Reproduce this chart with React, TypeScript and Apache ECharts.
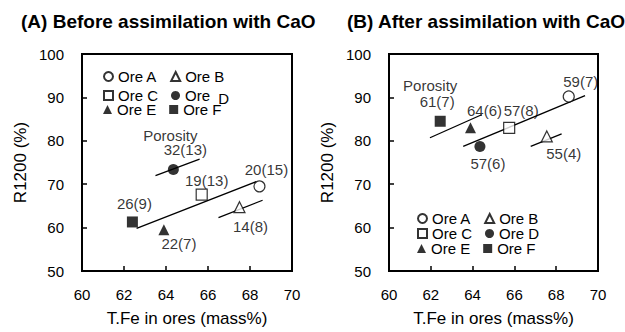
import React, { useEffect, useRef } from 'react';
import * as echarts from 'echarts';

// ---- data ----
const ores = ['Ore A', 'Ore B', 'Ore C', 'Ore D', 'Ore E', 'Ore F'];
const tFeBefore = [68.45, 67.5, 65.7, 64.35, 63.9, 62.4];
const r1200Before = [69.5, 64.7, 67.6, 73.4, 59.5, 61.3];
const porosityBefore = ['20(15)', '14(8)', '19(13)', '32(13)', '22(7)', '26(9)'];
const tFeAfter = [68.6, 67.55, 65.75, 64.35, 63.9, 62.45];
const r1200After = [90.2, 81.0, 83.0, 78.7, 83.0, 84.5];
const porosityAfter = ['59(7)', '55(4)', '57(8)', '57(6)', '64(6)', '61(7)'];
const trendBefore = [
  [[63.5, 72.0], [65.6, 75.8]],
  [[62.6, 59.8], [68.3, 70.6]],
  [[66.5, 62.3], [68.6, 66.3]],
];
const trendAfter = [
  [[61.96, 80.7], [64.43, 86.0]],
  [[63.55, 78.7], [69.38, 90.4]],
  [[66.78, 78.7], [68.26, 81.6]],
];
const porosityWordIndex = [3, 5]; // Ore D in (A), Ore F in (B)
const titles = ['(A) Before assimilation with CaO', '(B) After assimilation with CaO'];
const xMin = 60, xMax = 70, xInterval = 2;
const yMin = 50, yMax = 100, yInterval = 10;
const xName = 'T.Fe in ores (mass%)';
const yName = 'R1200 (%)';

// ---- styles ----
const FONT = 'Liberation Sans, Arial, Helvetica, sans-serif';
const symbols = ['circle', 'triangle', 'rect', 'circle', 'triangle', 'rect'];
const filled = [false, false, false, true, true, true];
const labelOffsets = [
  [[7, -17], [11, 19], [5, -14], [12, -20], [15, 14], [2, -18]],
  [[12, -15], [17, 17], [12, -17], [8, 17], [14, -17], [-3, -20]],
];
const porosityWordOffset = [[-3, -34], [-10, -36]];
const grids = [
  { left: 82, top: 54, width: 210, height: 219 },
  { left: 389, top: 54, width: 209, height: 218 },
];
const titlePos = [{ left: 21, top: 12 }, { left: 347, top: 12 }];
const legendLeft = [103, 417];
const legendRowCenters = [[76, 92.5, 109], [218, 233, 248]];

function itemStyleFor(i: number) {
  return filled[i]
    ? { color: '#000', borderColor: '#000', borderWidth: 0 }
    : { color: '#fff', borderColor: '#000', borderWidth: 1.2 };
}

const labelText = {
  color: '#000',
  fontSize: 15,
  fontFamily: FONT,
  lineHeight: 14,
  textBorderWidth: 0,
  textBorderColor: 'transparent',
};

export default function App() {
  const ref = useRef<HTMLDivElement>(null);
  useEffect(() => {
    if (!ref.current) return;
    const chart = echarts.init(ref.current, null, { renderer: 'svg' });
    const panels = [
      { x: tFeBefore, y: r1200Before, por: porosityBefore, trend: trendBefore },
      { x: tFeAfter, y: r1200After, por: porosityAfter, trend: trendAfter },
    ];
    const series: any[] = [];
    panels.forEach((p, pi) => {
      p.trend.forEach((seg) => {
        series.push({
          type: 'line',
          xAxisIndex: pi,
          yAxisIndex: pi,
          data: seg,
          symbol: 'none',
          silent: true,
          lineStyle: { color: '#000', width: 1.3 },
          z: 1,
        });
      });
      ores.forEach((name, i) => {
        series.push({
          type: 'scatter',
          name,
          xAxisIndex: pi,
          yAxisIndex: pi,
          symbol: symbols[i],
          symbolSize: 11,
          itemStyle: itemStyleFor(i),
          z: 3,
          data: [[p.x[i], p.y[i]]],
          label: {
            show: true,
            position: 'inside',
            offset: labelOffsets[pi][i],
            formatter: p.por[i],
            ...labelText,
          },
        });
      });
      const wi = porosityWordIndex[pi];
      series.push({
        type: 'scatter',
        xAxisIndex: pi,
        yAxisIndex: pi,
        symbolSize: 0,
        silent: true,
        data: [[p.x[wi], p.y[wi]]],
        label: {
          show: true,
          position: 'inside',
          offset: porosityWordOffset[pi],
          formatter: 'Porosity',
          ...labelText,
        },
      });
    });

    const legends: any[] = [];
    [0, 1].forEach((pi) => {
      [0, 1, 2].forEach((row) => {
        legends.push({
          data: [ores[row * 2], ores[row * 2 + 1]],
          left: legendLeft[pi],
          top: legendRowCenters[pi][row] - 7,
          padding: 0,
          itemWidth: 9,
          itemHeight: 9,
          itemGap: 13,
          selectedMode: false,
          orient: 'horizontal',
          formatter: (name: string) => (pi === 0 && name === 'Ore D' ? 'Ore {d|D}' : name),
          textStyle: {
            color: '#000',
            fontSize: 15,
            fontFamily: FONT,
            lineHeight: 14,
            rich: {
              d: { fontSize: 15, fontFamily: FONT, color: '#000', lineHeight: 14, padding: [5, 0, 0, 4] },
            },
          },
        });
      });
    });

    const option: any = {
      animation: false,
      backgroundColor: '#fff',
      title: titles.map((t, i) => ({
        text: t,
        left: titlePos[i].left,
        top: titlePos[i].top,
        padding: 0,
        textStyle: { fontSize: 19, fontWeight: 'bold', color: '#000', fontFamily: FONT },
      })),
      legend: legends,
      grid: grids.map((g) => ({ ...g, show: true, borderColor: '#000', borderWidth: 2, backgroundColor: 'transparent' })),
      xAxis: [0, 1].map((i) => ({
        type: 'value',
        gridIndex: i,
        min: xMin,
        max: xMax,
        interval: xInterval,
        name: xName,
        nameLocation: 'middle',
        nameGap: 39,
        nameTextStyle: { fontSize: 17, color: '#000', fontFamily: FONT },
        axisLine: { show: true, lineStyle: { color: '#000', width: 2 } },
        axisTick: { show: true, inside: true, length: 5, lineStyle: { color: '#000', width: 1.5 } },
        axisLabel: { fontSize: 15, color: '#000', fontFamily: FONT, margin: 16 },
        splitLine: { show: false },
      })),
      yAxis: [0, 1].map((i) => ({
        type: 'value',
        gridIndex: i,
        min: yMin,
        max: yMax,
        interval: yInterval,
        name: yName,
        nameLocation: 'middle',
        nameGap: 53,
        nameTextStyle: { fontSize: 17, color: '#000', fontFamily: FONT },
        axisLine: { show: true, lineStyle: { color: '#000', width: 2 } },
        axisTick: { show: true, inside: true, length: 5, lineStyle: { color: '#000', width: 1.5 } },
        axisLabel: { fontSize: 15, color: '#000', fontFamily: FONT, margin: 18 },
        splitLine: { show: false },
      })),
      series,
    };
    chart.setOption(option);
    return () => chart.dispose();
  }, []);
  return (
    <div
      ref={ref}
      style={{ position: 'fixed', left: 0, top: 0, width: 625, height: 332, background: '#fff' }}
    />
  );
}
